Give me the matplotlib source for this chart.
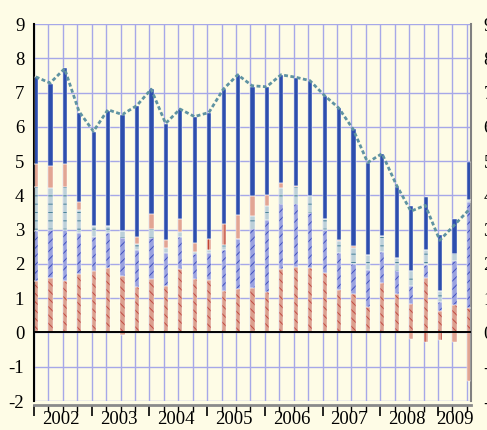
import matplotlib.pyplot as plt
import matplotlib.transforms as mtransforms
import numpy as np

plt.rcParams['font.family'] = ['Liberation Serif', 'DejaVu Serif']
plt.rcParams['hatch.linewidth'] = 0.7
plt.rcParams['axes.unicode_minus'] = False

# quarterly data, 2002 Q1 .. 2009 Q3
years = ['2002', '2003', '2004', '2005', '2006', '2007', '2008', '2009']

salmon = [1.50, 1.58, 1.50, 1.70, 1.79, 1.87, 1.65, 1.33, 1.56, 1.35, 1.84, 1.56, 1.53, 1.22, 1.26, 1.30,
          1.19, 1.86, 1.92, 1.89, 1.74, 1.24, 1.11, 0.75, 1.43, 1.11, 0.83, 1.60, 0.62, 0.80, 0.70]
salmon_neg = [0, 0, 0, 0, 0, 0, -0.08, 0, 0, 0, 0, 0, 0, 0, 0, 0,
              0, 0, 0, 0, 0, 0, 0, 0, 0, 0, 0, 0, 0, 0, 0]
lavender = [1.45, 1.41, 1.49, 1.19, 1.00, 1.04, 1.12, 1.07, 1.21, 0.97, 0.94, 0.73, 0.78, 1.19, 1.48, 1.72,
            2.08, 1.88, 1.83, 1.60, 1.24, 1.08, 0.88, 1.08, 0.93, 0.68, 0.53, 0.37, 0.27, 1.30, 3.12]
teal = [1.30, 1.22, 1.27, 0.68, 0.32, 0.20, 0.20, 0.17, 0.25, 0.16, 0.15, 0.07, 0.10, 0.14, 0.00, 0.37,
        0.41, 0.48, 0.50, 0.49, 0.34, 0.34, 0.48, 0.44, 0.46, 0.37, 0.44, 0.43, 0.33, 0.20, 0.05]
red = [0.68, 0.65, 0.67, 0.24, 0, 0, 0, 0.22, 0.44, 0.22, 0.39, 0.25, 0.31, 0.61, 0.69, 0.58,
       0.34, 0.15, 0.02, 0, 0, 0.05, 0.05, 0, 0, 0, 0, 0, 0, 0, 0]
red_neg = [0, 0, 0, 0, 0, 0, 0, 0, 0, 0, 0, 0, 0, 0, 0, 0,
           0, 0, 0, 0, 0, 0, 0, 0, 0, 0, -0.19, -0.27, -0.22, -0.29, -1.41]
blue = [2.53, 2.38, 2.78, 2.60, 2.73, 3.36, 3.39, 3.82, 3.64, 3.38, 3.19, 3.68, 3.69, 3.94, 4.08, 3.20,
        3.13, 3.13, 3.15, 3.36, 3.59, 3.83, 3.41, 2.69, 2.40, 2.09, 1.88, 1.56, 1.62, 1.00, 1.11]
total = [7.46, 7.28, 7.70, 6.45, 5.87, 6.50, 6.36, 6.62, 7.10, 6.10, 6.52, 6.30, 6.42, 7.10, 7.52, 7.20,
         7.17, 7.52, 7.45, 7.35, 6.92, 6.55, 5.93, 4.96, 5.22, 4.30, 3.54, 3.71, 2.69, 3.13, 3.57]

bg = '#FEFCE6'
fig = plt.figure(figsize=(4.87, 4.30), dpi=100, facecolor=bg)
ax = fig.add_axes([0.0698, 0.0674, 0.8972, 0.8766], facecolor=bg)

n = len(salmon)
x = np.arange(n) + 0.14
w = 0.29

def segment(vals, bottom, fill, hcol, hatch):
    ax.bar(x, vals, w, bottom=bottom, color=fill, edgecolor=hcol, hatch=hatch, linewidth=0, zorder=2)
    ax.bar(x, vals, w, bottom=bottom, fill=False, edgecolor='white', linewidth=0.3, zorder=3)

b = np.zeros(n)
segment(salmon, b, '#DC9F8E', '#C04A40', '\\\\\\\\')
b = b + salmon
segment(lavender, b, '#9AA2E0', '#3F4FBE', '////')
b = b + lavender
segment(teal, b, '#BCD0D9', '#4A8299', '--')
b = b + teal
segment(red, b, '#E2A593', '#BA3022', '|')
b = b + red
segment(blue, b, '#2D4EAE', '#2D4EAE', None)

segment(salmon_neg, np.zeros(n), '#DC9F8E', '#C04A40', '\\\\\\\\')
segment(red_neg, np.array(salmon_neg), '#E2A593', '#BA3022', '|')

ax.plot(np.arange(n) + 0.12, total, color='#5F93A2', lw=2.0, dashes=(1.4, 0.9), zorder=4,
        solid_capstyle='butt')

ax.set_xlim(0, 30.28)
ax.set_ylim(-2, 9)
ax.set_yticks(range(-2, 10))
ax.set_xticks(range(0, 31, 4))
ax.set_xticks(range(0, 31), minor=True)
ax.set_xticklabels([])
ax.grid(True, which='both', axis='x', color='#A6A8E8', lw=1.0, zorder=0)
ax.grid(True, which='major', axis='y', color='#A6A8E8', lw=1.0, zorder=0)
ax.axhline(0, color='black', lw=1.4, zorder=5)

ax.spines['top'].set_visible(False)
ax.spines['left'].set_color('black')
ax.spines['left'].set_linewidth(1.5)
ax.spines['right'].set_color('#808080')
ax.spines['right'].set_linewidth(1.5)
ax.spines['bottom'].set_color('#8A8A8A')
ax.spines['bottom'].set_linewidth(2.0)
ax.spines['bottom'].set_position(('outward', 3))

ax.tick_params(axis='y', length=0, pad=7, labelsize=13.5)
ax.tick_params(axis='x', which='major', length=8, width=1.2, color='black', direction='out')
ax.tick_params(axis='x', which='minor', length=5, width=1.0, color='black', direction='out')

# right-hand axis repeats the scale (cut off by the figure edge as in the original)
ax2 = ax.twinx()
ax2.set_ylim(-2, 9)
ax2.set_yticks(range(-2, 10))
ax2.tick_params(axis='y', length=0, pad=9, labelsize=13.5)
for s in ax2.spines.values():
    s.set_visible(False)

trans = mtransforms.blended_transform_factory(ax.transData, fig.transFigure)
label_pos = [1.85, 5.85, 9.85, 13.85, 17.85, 21.85, 25.85, 29.15]
for yr, xp in zip(years, label_pos):
    ax.text(xp, 0.004, yr, transform=trans, ha='center', va='bottom', fontsize=13.5)

fig.savefig('out.png', dpi=100, facecolor=bg)
